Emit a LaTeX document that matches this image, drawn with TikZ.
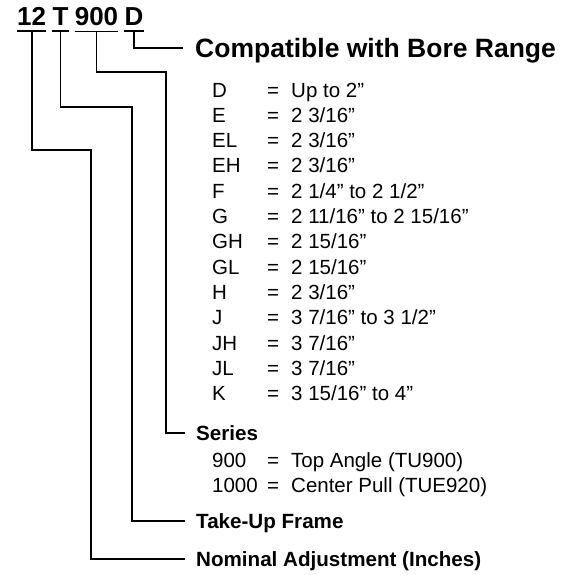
\documentclass[tikz,border=0pt]{standalone}
\usepackage{fontspec}
\setmainfont{Liberation Sans}
\usetikzlibrary{positioning}

\begin{document}
\begin{tikzpicture}[x=1pt, y=-1pt]
    \useasboundingbox (0,0) rectangle (576,574);
    \begin{scope}[
        codepart/.style={font=\fontsize{26}{30}\selectfont\bfseries, inner xsep=0pt, inner ysep=6pt},
        headlabel/.style={font=\fontsize{26.5}{32}\selectfont\bfseries, inner sep=0pt, text depth=0pt, anchor=west},
        grouplabel/.style={font=\fontsize{20.6}{25}\selectfont\bfseries, inner sep=0pt, text depth=0pt, anchor=west},
        entry/.style={font=\fontsize{20.5}{25}\selectfont, inner sep=0pt, anchor=base west},
        wire/.style={line width=1.8pt, draw=black}
    ]
        % ================= PART NUMBER =================
        \node[codepart, anchor=base west] (n12) at (17, 25) {12};
        \node[codepart, base right=6pt of n12] (nT) {T};
        \node[codepart, base right=6pt of nT] (n900) {900};
        \node[codepart, base right=6pt of n900] (nD) {D};
        \foreach \part in {n12, nT, n900, nD}
            \draw[wire] (\part.south west) -- (\part.south east);

        % ================= LABELS =================
        \node[headlabel] (bore) at (195, 48) {Compatible with Bore Range};
        \node[grouplabel] (series) at (196, 433) {Series};
        \node[grouplabel] (frame) at (196, 521) {Take-Up Frame};
        \node[grouplabel] (nominal) at (196, 559) {Nominal Adjustment (Inches)};

        % ================= BORE CODES =================
        \foreach \code/\range [count=\i] in {D/{Up to 2”}, E/{2 3/16”}, EL/{2 3/16”}, EH/{2 3/16”},
                F/{2 1/4” to 2 1/2”}, G/{2 11/16” to 2 15/16”}, GH/{2 15/16”}, GL/{2 15/16”},
                H/{2 3/16”}, J/{3 7/16” to 3 1/2”}, JH/{3 7/16”}, JL/{3 7/16”}, K/{3 15/16” to 4”}} {
            \node[entry] (key\i) at (212, {97+(\i-1)*25.33}) {\code};
            \node[entry] (eq\i) at (267, {97+(\i-1)*25.33}) {=};
            \node[entry] (range\i) at (291, {97+(\i-1)*25.33}) {\range};
        }

        % ================= SERIES CODES =================
        \node[entry] (s900) at (212, 467) {900};
        \node[entry] (s900eq) at (267, 467) {=};
        \node[entry] (s900val) at (291, 467) {Top Angle (TU900)};
        \node[entry] (s1000) at (212, 492) {1000};
        \node[entry] (s1000eq) at (267, 492) {=};
        \node[entry] (s1000val) at (291, 492) {Center Pull (TUE920)};

        % ================= LEADERS =================
        \coordinate (rail12) at (91, 150);
        \coordinate (railT) at (132, 107);
        \coordinate (rail900) at (166, 72);
        \draw[wire] (nD.south) |- ([xshift=-12pt]bore.west);
        \draw[wire] (n900.south) |- (rail900) |- ([xshift=-11pt]series.west);
        \draw[wire] (nT.south) |- (railT) |- ([xshift=-11pt]frame.west);
        \draw[wire] (n12.south) |- (rail12) |- ([xshift=-11pt]nominal.west);
    \end{scope}
\end{tikzpicture}
\end{document}
